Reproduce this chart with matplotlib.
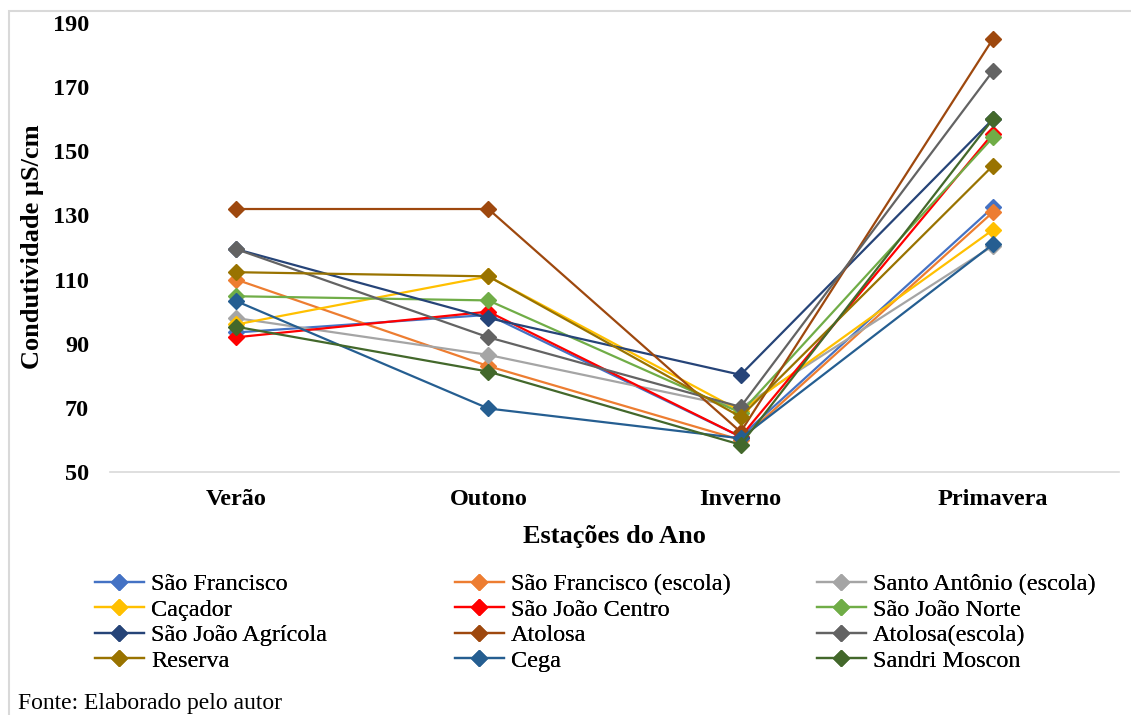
import matplotlib
matplotlib.use("Agg")
import matplotlib.pyplot as plt
from matplotlib.patches import Rectangle

plt.rcParams['font.family'] = ['Liberation Serif', 'DejaVu Serif']

# Estações do ano (eixo x)
estacoes = ["Verão", "Outono", "Inverno", "Primavera"]

# Condutividade (µS/cm) por ponto de coleta
sao_francisco = [93.5, 99, 61, 132.5]
sao_francisco_escola = [110, 83, 60, 131]
santo_antonio_escola = [98, 86.5, 70, 120.5]
cacador = [96, 111, 69, 125.5]
sao_joao_centro = [92, 100, 61, 155.5]
sao_joao_norte = [104.8, 103.5, 68.5, 154.3]
sao_joao_agricola = [119.5, 98, 80.3, 160]
atolosa = [132, 132, 62.5, 185]
atolosa_escola = [119.5, 92, 70.3, 175]
reserva = [112.3, 111, 67.2, 145.5]
cega = [103.3, 69.8, 60.5, 121]
sandri_moscon = [95.3, 81.3, 58.5, 160]

nomes = ["São Francisco", "São Francisco (escola)", "Santo Antônio (escola)",
         "Caçador", "São João Centro", "São João Norte",
         "São João Agrícola", "Atolosa", "Atolosa(escola)",
         "Reserva", "Cega", "Sandri Moscon"]
series = [sao_francisco, sao_francisco_escola, santo_antonio_escola,
          cacador, sao_joao_centro, sao_joao_norte,
          sao_joao_agricola, atolosa, atolosa_escola,
          reserva, cega, sandri_moscon]
cores = ["#4472C4", "#ED7D31", "#A5A5A5", "#FFC000", "#FF0000", "#70AD47",
         "#264478", "#9E480E", "#636363", "#997300", "#255E91", "#43682B"]

W, H = 1131, 715
fig = plt.figure(figsize=(W / 100, H / 100), dpi=100)

# moldura cinza do gráfico
fig.patches.append(Rectangle((9 / W, -0.1), 1.2, 1 - 11 / H + 0.1,
                             transform=fig.transFigure, fill=False,
                             edgecolor="#D9D9D9", linewidth=1.5))

ax = fig.add_axes([110 / W, (H - 472) / H, (1119 - 110) / W, (472 - 23) / H])
x = range(len(estacoes))
linhas = []
for nome, vals, cor in zip(nomes, series, cores):
    ln, = ax.plot(x, vals, color=cor, linewidth=1.6, marker="D",
                  markersize=8.5, label=nome)
    linhas.append(ln)

ax.set_xlim(-0.5, 3.5)
ax.set_ylim(50, 190)
ax.set_yticks(range(50, 191, 20))
ax.set_xticks(list(x))
ax.set_xticklabels(estacoes)
for s in ["top", "right", "left"]:
    ax.spines[s].set_visible(False)
ax.spines["bottom"].set_color("#D9D9D9")
ax.spines["bottom"].set_linewidth(1.2)
ax.tick_params(axis="both", length=0, labelsize=17.5)
ax.tick_params(axis="x", pad=12)
ax.tick_params(axis="y", pad=15)
for lab in ax.get_xticklabels() + ax.get_yticklabels():
    lab.set_fontweight("bold")

fig.text(33 / W, 1 - 247 / H, "Condutividade µS/cm", rotation=90,
         ha="center", va="center", fontsize=19, fontweight="bold")
fig.text(614 / W, 1 - 537 / H, "Estações do Ano", ha="center", va="center",
         fontsize=19, fontweight="bold")

# legenda em três colunas
for col, x0 in enumerate([95, 455, 817]):
    leg = fig.legend(linhas[col::3], nomes[col::3], loc="upper left",
                     bbox_to_anchor=(x0 / W, 1 - 573 / H), frameon=False,
                     fontsize=17.5, handlelength=2.0, handletextpad=0.3,
                     labelspacing=0.15, borderpad=0, borderaxespad=0)
    fig.add_artist(leg)

fig.text(18 / W, 1 - 704 / H, "Fonte: Elaborado pelo autor", ha="left",
         va="center", fontsize=17)

fig.savefig("out.png", dpi=100)
